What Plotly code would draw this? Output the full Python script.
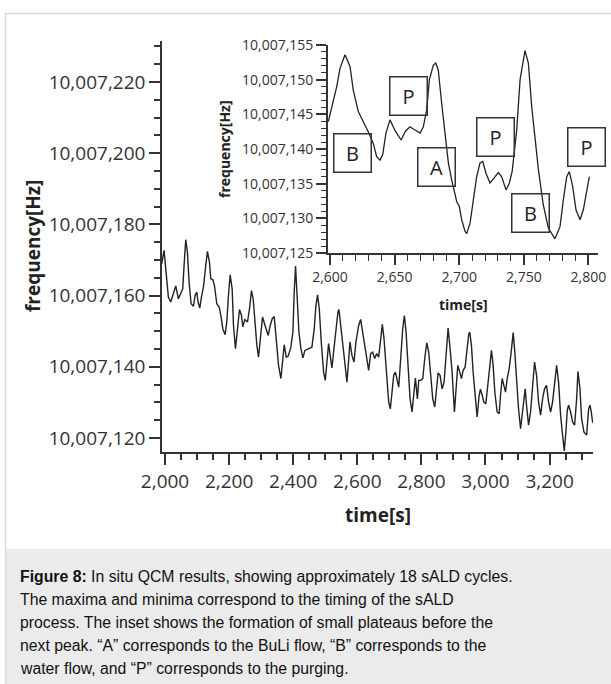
import plotly.graph_objects as go

W, H = 611, 684

# ---------------- data (main curve) ----------------
t_main = [1989.6, 1996.9, 2003.2, 2010.4, 2017.7, 2026.1, 2033.4, 2041.7, 2049.0, 2055.2,
          2059.4, 2064.6, 2069.8, 2075.0, 2081.3, 2088.6, 2093.8, 2099.0, 2103.2, 2108.4,
          2113.6, 2119.8, 2127.1, 2132.3, 2138.6, 2142.7, 2149.0, 2154.2, 2161.5, 2168.8,
          2175.0, 2180.2, 2187.5, 2192.7, 2197.9, 2203.2, 2209.4, 2213.6, 2219.8, 2226.1,
          2232.3, 2238.6, 2242.7, 2249.0, 2257.3, 2263.6, 2269.8, 2275.0, 2280.2, 2286.5,
          2291.7, 2296.9, 2304.2, 2310.4, 2315.7, 2321.9, 2328.2, 2334.4, 2340.7, 2346.9,
          2354.2, 2361.5, 2367.7, 2371.9, 2378.2, 2384.4, 2392.7, 2399.0, 2403.1, 2407.3,
          2411.5, 2417.7, 2424.0, 2430.2, 2436.5, 2447.9, 2458.3, 2465.6, 2470.8, 2476.0,
          2481.3, 2487.5, 2494.8, 2500.0, 2506.3, 2510.4, 2516.7, 2520.8, 2527.1, 2533.3,
          2539.6, 2542.7, 2547.9, 2554.2, 2560.4, 2567.7, 2572.9, 2577.1, 2583.3, 2589.6,
          2595.8, 2604.2, 2610.4, 2616.7, 2622.9, 2629.2, 2635.4, 2641.7, 2647.9, 2654.2,
          2660.4, 2666.7, 2672.9, 2678.1, 2683.3, 2687.5, 2692.7, 2697.9, 2703.1, 2708.3,
          2713.5, 2718.8, 2724.0, 2729.2, 2735.4, 2741.7, 2746.9, 2752.1, 2758.3, 2764.6,
          2770.8, 2777.1, 2781.3, 2787.5, 2791.7, 2797.9, 2804.2, 2810.4, 2816.7, 2822.9,
          2829.2, 2835.4, 2841.7, 2847.9, 2852.1, 2858.3, 2864.6, 2870.8, 2877.1, 2883.3,
          2889.6, 2895.8, 2903.1, 2909.4, 2913.5, 2919.8, 2925.0, 2930.2, 2936.4, 2942.7,
          2947.9, 2951.0, 2956.2, 2961.4, 2967.7, 2973.9, 2980.2, 2984.4, 2989.6, 2994.8,
          3001.0, 3007.3, 3013.5, 3018.7, 3023.9, 3029.1, 3036.4, 3042.7, 3046.9, 3052.1,
          3057.3, 3062.5, 3067.7, 3074.0, 3080.2, 3086.4, 3091.6, 3096.9, 3103.1, 3109.4,
          3114.6, 3119.8, 3123.9, 3128.1, 3134.4, 3140.6, 3146.9, 3153.1, 3159.4, 3165.6,
          3171.9, 3178.1, 3184.4, 3190.6, 3196.9, 3203.1, 3209.4, 3215.6, 3221.9, 3228.1,
          3234.4, 3240.6, 3245.8, 3251.0, 3255.2, 3259.4, 3265.6, 3271.9, 3278.1, 3284.4,
          3288.5, 3294.8, 3300.0, 3307.3, 3315.6, 3321.9, 3326.0, 3330.2, 3334.4]

f_main = [10007168.9, 10007172.7, 10007166.6, 10007159.6, 10007158.2, 10007161.0, 10007162.7, 10007159.1, 10007160.5, 10007161.9,
          10007168.5, 10007175.7, 10007172.2, 10007163.8, 10007157.7, 10007157.0, 10007160.0, 10007161.0, 10007158.2, 10007156.5,
          10007159.6, 10007162.4, 10007168.5, 10007172.4, 10007169.4, 10007164.7, 10007164.5, 10007162.8, 10007157.7, 10007156.8,
          10007154.0, 10007150.7, 10007149.0, 10007152.6, 10007160.0, 10007165.8, 10007161.9, 10007151.6, 10007145.1, 10007149.8,
          10007156.1, 10007154.4, 10007151.2, 10007153.3, 10007152.6, 10007156.3, 10007161.4, 10007159.1, 10007152.6, 10007146.0,
          10007142.7, 10007147.9, 10007154.0, 10007152.1, 10007150.7, 10007148.8, 10007151.6, 10007153.5, 10007154.1, 10007147.9,
          10007140.4, 10007136.7, 10007142.3, 10007146.2, 10007142.7, 10007143.0, 10007145.5, 10007149.8, 10007161.0, 10007168.3,
          10007161.0, 10007149.8, 10007145.1, 10007142.5, 10007144.6, 10007145.1, 10007145.5, 10007150.7, 10007157.2, 10007160.2,
          10007156.3, 10007147.0, 10007138.5, 10007136.2, 10007142.3, 10007146.5, 10007142.3, 10007139.7, 10007145.1, 10007150.7,
          10007155.4, 10007156.1, 10007151.6, 10007146.0, 10007140.4, 10007135.7, 10007141.8, 10007147.0, 10007143.2, 10007141.3,
          10007147.0, 10007151.6, 10007153.3, 10007149.8, 10007145.5, 10007142.3, 10007139.0, 10007143.7, 10007144.1, 10007142.3,
          10007143.7, 10007142.7, 10007147.9, 10007151.9, 10007147.9, 10007142.3, 10007134.8, 10007130.1, 10007128.2, 10007133.9,
          10007137.6, 10007138.5, 10007136.2, 10007134.3, 10007142.3, 10007150.7, 10007154.4, 10007149.8, 10007140.4, 10007131.0,
          10007127.3, 10007132.9, 10007136.8, 10007131.0, 10007136.2, 10007136.2, 10007136.7, 10007142.3, 10007146.7, 10007144.1,
          10007136.7, 10007131.0, 10007128.7, 10007134.8, 10007138.3, 10007137.6, 10007133.8, 10007135.7, 10007144.1, 10007150.9,
          10007145.1, 10007138.5, 10007127.3, 10007134.8, 10007140.4, 10007138.5, 10007136.7, 10007139.0, 10007139.9, 10007145.1,
          10007149.3, 10007149.7, 10007146.0, 10007138.5, 10007131.0, 10007125.9, 10007132.0, 10007133.7, 10007132.0, 10007130.1,
          10007129.6, 10007135.7, 10007141.3, 10007144.6, 10007140.4, 10007132.9, 10007127.3, 10007126.8, 10007132.0, 10007136.7,
          10007134.8, 10007132.9, 10007136.7, 10007139.5, 10007144.1, 10007149.6, 10007144.1, 10007136.7, 10007128.2, 10007122.6,
          10007126.4, 10007131.0, 10007133.8, 10007129.2, 10007123.6, 10007127.3, 10007134.8, 10007141.3, 10007137.6, 10007130.1,
          10007126.4, 10007131.0, 10007133.9, 10007134.8, 10007130.1, 10007127.3, 10007130.1, 10007135.7, 10007140.4, 10007135.7,
          10007126.4, 10007120.8, 10007116.4, 10007121.7, 10007127.8, 10007129.2, 10007127.3, 10007124.5, 10007123.6, 10007131.0,
          10007138.7, 10007133.9, 10007125.4, 10007121.7, 10007120.8, 10007128.2, 10007129.2, 10007127.3, 10007124.3]

# ---------------- data (inset curve) ----------------
t_inset = [2598.7, 2605.2, 2607.7, 2611.6, 2615.5, 2618.0, 2621.9, 2625.8, 2629.6, 2633.5,
           2636.1, 2638.7, 2640.8, 2643.3, 2646.4, 2650.5, 2655.0, 2658.5, 2661.9, 2665.8,
           2669.7, 2672.2, 2674.8, 2676.9, 2680.0, 2681.8, 2683.8, 2686.4, 2689.0, 2691.6,
           2694.2, 2698.1, 2700.1, 2701.9, 2704.5, 2705.8, 2708.4, 2710.9, 2713.5, 2716.1,
           2718.2, 2720.7, 2723.8, 2726.9, 2730.3, 2732.9, 2736.2, 2738.8, 2741.0, 2744.5,
           2747.1, 2750.9, 2753.5, 2756.1, 2758.7, 2761.3, 2765.0, 2769.0, 2774.1, 2778.0,
           2780.6, 2783.2, 2785.2, 2787.8, 2790.4, 2793.5, 2796.0, 2798.7, 2800.7]
f_inset = [10007143.95, 10007149.0, 10007151.6, 10007153.6, 10007151.9, 10007148.5, 10007145.4, 10007143.95, 10007142.5, 10007140.8,
           10007138.9, 10007138.4, 10007139.2, 10007142.3, 10007144.2, 10007142.6, 10007141.3, 10007142.6, 10007143.2, 10007142.75,
           10007142.3, 10007143.2, 10007145.6, 10007150.0, 10007152.1, 10007152.4, 10007151.4, 10007146.6, 10007142.3, 10007138.0,
           10007135.5, 10007132.4, 10007131.7, 10007129.8, 10007128.1, 10007127.8, 10007129.3, 10007132.7, 10007136.0, 10007138.0,
           10007138.2, 10007136.5, 10007135.1, 10007135.8, 10007136.6, 10007136.0, 10007134.1, 10007135.1, 10007136.8, 10007142.75,
           10007150.0, 10007154.2, 10007152.4, 10007146.1, 10007141.3, 10007137.0, 10007132.0, 10007128.6, 10007127.05, 10007128.8,
           10007132.7, 10007136.0, 10007136.75, 10007134.6, 10007131.2, 10007129.8, 10007131.2, 10007134.1, 10007136.0]

# inset phase labels (centre time, centre frequency)
box_labels = ["B", "P", "A", "P", "B", "P"]
box_t = [2617.5, 2660.4, 2682.5, 2727.9, 2755.4, 2798.4]
box_f = [10007139.4, 10007147.7, 10007137.4, 10007141.8, 10007130.7, 10007140.3]

caption_lines = [
    "<b>Figure 8:</b> In situ QCM results, showing approximately 18 sALD cycles.",
    "The maxima and minima correspond to the timing of the sALD",
    "process. The inset shows the formation of small plateaus before the",
    "next peak. \u201cA\u201d corresponds to the BuLi flow, \u201cB\u201d corresponds to the",
    "water flow, and \u201cP\u201d corresponds to the purging.",
]


def px(x):
    return x / W


def py(y):
    return 1 - y / H


AX = "#333333"
FONT = "Open Sans"

fig = go.Figure()
fig.add_trace(go.Scatter(x=t_main, y=f_main, mode="lines",
                         line=dict(color="#222222", width=1.4),
                         xaxis="x", yaxis="y", showlegend=False))
fig.add_trace(go.Scatter(x=t_inset, y=f_inset, mode="lines",
                         line=dict(color="#222222", width=1.3),
                         xaxis="x2", yaxis="y2", showlegend=False))

common = dict(showgrid=False, zeroline=False, showline=True, linecolor=AX,
              linewidth=1.6, ticks="outside", tickcolor=AX, tickwidth=1.5,
              automargin=False)

fig.update_layout(
    width=W, height=H,
    margin=dict(l=0, r=0, t=0, b=0, pad=0, autoexpand=False),
    paper_bgcolor="white", plot_bgcolor="rgba(0,0,0,0)",
    font=dict(family=FONT, color=AX),
    xaxis=dict(domain=[px(162), px(593)], range=[1990.5, 3335.5], anchor="y",
               tick0=2000, dtick=200, tickformat=",d", ticklen=11,
               tickfont=dict(size=19, color=AX, family=FONT),
               minor=dict(dtick=50, ticklen=6, ticks="outside", tickcolor=AX, tickwidth=1.5),
               **common),
    yaxis=dict(domain=[py(452), py(41)], range=[10007116.07, 10007231.5], anchor="x",
               tick0=10007120, dtick=20, tickformat=",.0f", ticklen=11,
               tickfont=dict(size=19, color=AX, family=FONT),
               minor=dict(dtick=5, ticklen=6, ticks="outside", tickcolor=AX, tickwidth=1.5),
               **common),
    xaxis2=dict(domain=[px(328), px(598)], range=[2598.45, 2807.4], anchor="y2",
                tick0=2600, dtick=50, tickformat=",d", ticklen=10,
                tickfont=dict(size=14, color=AX, family=FONT),
                minor=dict(dtick=10, ticklen=6, ticks="outside", tickcolor=AX, tickwidth=1.3),
                **common),
    yaxis2=dict(domain=[py(253), py(45)], range=[10007125, 10007155], anchor="x2",
                tick0=10007125, dtick=5, tickformat=",.0f", ticklen=10,
                tickfont=dict(size=14, color=AX, family=FONT),
                minor=dict(dtick=1, ticklen=5, ticks="outside", tickcolor=AX, tickwidth=1.3),
                **common),
)

shapes = [
    # caption box
    dict(type="rect", xref="paper", yref="paper", x0=px(6), x1=1.0, y0=0, y1=py(549),
         fillcolor="#ebebeb", line=dict(width=0), layer="below"),
    # frame
    dict(type="line", xref="paper", yref="paper", x0=px(5.5), x1=px(5.5), y0=0, y1=py(13),
         line=dict(color="#dadada", width=1.5)),
    dict(type="line", xref="paper", yref="paper", x0=px(5), x1=1.0, y0=py(13.5), y1=py(13.5),
         line=dict(color="#dadada", width=1.5)),
]
fig.update_layout(shapes=shapes)

ann = []
# axis titles
title_common = dict(xref="paper", yref="paper", showarrow=False, xanchor="center", yanchor="middle")
ann.append(dict(text="<b>frequency[Hz]</b>", x=px(33), y=py(246), textangle=-90,
                font=dict(size=19, family=FONT, color="#222222"), **title_common))
ann.append(dict(text="<b>time[s]</b>", x=px(378), y=py(515),
                font=dict(size=19, family=FONT, color="#222222"), **title_common))
ann.append(dict(text="<b>frequency[Hz]</b>", x=px(225), y=py(149), textangle=-90,
                font=dict(size=14, family=FONT, color="#222222"), **title_common))
ann.append(dict(text="<b>time[s]</b>", x=px(463), y=py(304),
                font=dict(size=14, family=FONT, color="#222222"), **title_common))
# phase boxes
for lab, bt, bf in zip(box_labels, box_t, box_f):
    ann.append(dict(text=lab, xref="x2", yref="y2", x=bt, y=bf, showarrow=False,
                    xanchor="center", yanchor="middle",
                    width=36, height=37, borderpad=0, bordercolor="#333333", borderwidth=1.5,
                    font=dict(size=20, family=FONT, color="#222222")))
# caption
cap_y = [576, 599, 622, 645, 668]
for line, yy in zip(caption_lines, cap_y):
    ann.append(dict(text=line, xref="paper", yref="paper", x=px(18), y=py(yy),
                    xanchor="left", yanchor="middle", showarrow=False, align="left",
                    font=dict(size=15.8, family="Liberation Sans, Arial", color="#111111")))
fig.update_layout(annotations=ann)

fig.write_html("out.html", config={"displayModeBar": False},
               post_script="document.body.style.margin='0';document.body.style.overflow='hidden';")
